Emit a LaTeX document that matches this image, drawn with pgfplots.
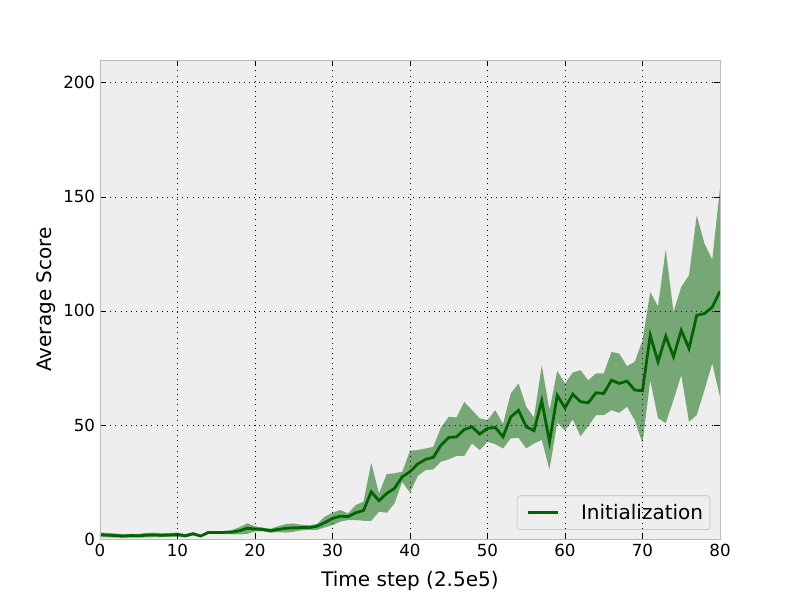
\documentclass[border=0pt]{standalone}
\usepackage{fontspec}
\setmainfont{DejaVu Sans}
\usepackage{pgfplots}
\usepgfplotslibrary{fillbetween}
\pgfplotsset{compat=1.18}
\usepackage{pgfplotstable}
\definecolor{dgreen}{RGB}{0,100,0}
\definecolor{bgc}{HTML}{EEEEEE}
\definecolor{spine}{HTML}{BBBBBB}
\pgfplotstableread{
x mean lo hi
0 1.9 0.8 2.9
1 1.7 0.7 2.6
2 1.5 0.6 2.4
3 1.3 0.5 2.1
4 1.5 0.6 2.3
5 1.4 0.6 2.2
6 1.7 0.7 2.7
7 1.8 0.8 2.8
8 1.6 0.8 2.5
9 1.8 0.9 2.6
10 2.0 1.0 2.8
11 1.4 0.7 2.1
12 2.3 1.5 3.0
13 1.3 0.8 1.8
14 2.9 2.3 3.5
15 2.8 2.2 3.4
16 2.9 2.2 3.5
17 3.0 2.1 3.9
18 3.6 2.0 5.2
19 4.7 2.3 6.9
20 4.4 3.3 5.6
21 4.2 3.4 5.0
22 3.6 2.8 4.5
23 4.2 3.0 5.6
24 4.7 2.8 6.6
25 4.9 3.2 6.8
26 5.0 3.8 6.2
27 5.0 4.0 6.0
28 5.6 4.0 6.6
29 7.2 5.1 9.8
30 9.0 6.1 11.5
31 10.0 7.6 12.7
32 9.8 8.3 11.2
33 11.5 8.3 14.9
34 12.5 8.0 16.4
35 20.7 8.0 33.4
36 16.8 12.0 20.0
37 20.0 11.5 28.5
38 22.2 15.6 28.8
39 27.3 25.1 29.5
40 29.5 20.3 38.7
41 32.9 27.6 39.0
42 34.9 30.2 39.7
43 35.8 30.5 40.4
44 41.2 33.9 48.9
45 44.5 34.9 53.6
46 44.8 36.4 53.3
47 48.0 36.4 60.1
48 49.2 41.9 56.5
49 46.0 39.0 52.9
50 48.5 42.6 52.1
51 48.9 41.6 56.5
52 44.8 39.7 50.4
53 53.5 44.1 63.8
54 56.4 44.4 68.2
55 49.2 39.7 58.0
56 47.5 41.9 53.3
57 60.6 43.4 76.2
58 42.6 30.5 56.5
59 63.0 51.0 73.7
60 57.5 47.5 68.2
61 63.5 52.4 73.0
62 60.2 45.0 74.0
63 59.7 49.5 69.6
64 64.1 54.3 72.6
65 63.8 54.3 72.6
66 69.6 56.5 82.0
67 68.2 55.3 81.3
68 69.2 58.0 75.8
69 65.3 52.1 77.7
70 65.0 42.0 87.0
71 89.3 69.6 108.3
72 77.7 53.0 102.0
73 88.9 50.8 127.0
74 79.9 61.0 99.6
75 91.5 71.8 110.5
76 83.5 51.4 115.6
77 98.1 54.3 141.9
78 98.8 65.3 129.5
79 101.7 77.0 122.5
80 108.6 62.3 154.0
}\data
\begin{document}
\begin{tikzpicture}
\begin{axis}[
  scale only axis,
  width=446.4pt, height=344.88pt,
  xmin=0, xmax=80, ymin=0, ymax=210,
  xtick={0,10,...,80}, ytick={0,50,...,200},
  axis background/.style={fill=bgc},
  axis line style={spine},
  tick style={black, line width=0.5pt},
  major tick length=4pt,
  tick align=inside,
  xtick pos=both, ytick pos=both,
  grid=major,
  major grid style={black, line width=0.45pt, dash pattern=on 0.7pt off 3pt},
  axis on top,
  /pgf/number format/assume math mode=true,
  tick label style={font=\fontsize{12}{14}\selectfont},
  label style={font=\fontsize{14.4}{17}\selectfont},
  xlabel={Time step (2.5e5)},
  ylabel={Average Score},
  xlabel style={yshift=-3.5pt},
  ylabel style={yshift=-1.5pt},
  legend style={at={(1,0)}, anchor=south east, xshift=-7pt, yshift=6.5pt,
    draw=spine, fill=bgc, rounded corners=2pt,
    font=\fontsize{14.4}{17}\selectfont, inner xsep=3pt, inner ysep=4pt},
  legend cell align=left,
  legend image code/.code={\draw[#1] (5pt,0pt) -- (26.6pt,0pt); \path[draw=none, fill=none] (0pt,0pt) -- (41pt,0pt);},
]
\path (rel axis cs:0,0) coordinate (O);
\addplot[name path=U, draw=none, forget plot] table[x=x, y=hi] {\data};
\addplot[name path=L, draw=none, forget plot] table[x=x, y=lo] {\data};
\addplot[fill=dgreen, fill opacity=0.5, draw=none, forget plot] fill between[of=U and L];
\addplot[dgreen, line width=2pt] table[x=x, y=mean] {\data};
\addlegendentry{Initialization}
\end{axis}
\pgfresetboundingbox
\path[use as bounding box] (O) ++(-72pt,-43.92pt) rectangle ++(576pt,432pt);
\end{tikzpicture}
\end{document}
